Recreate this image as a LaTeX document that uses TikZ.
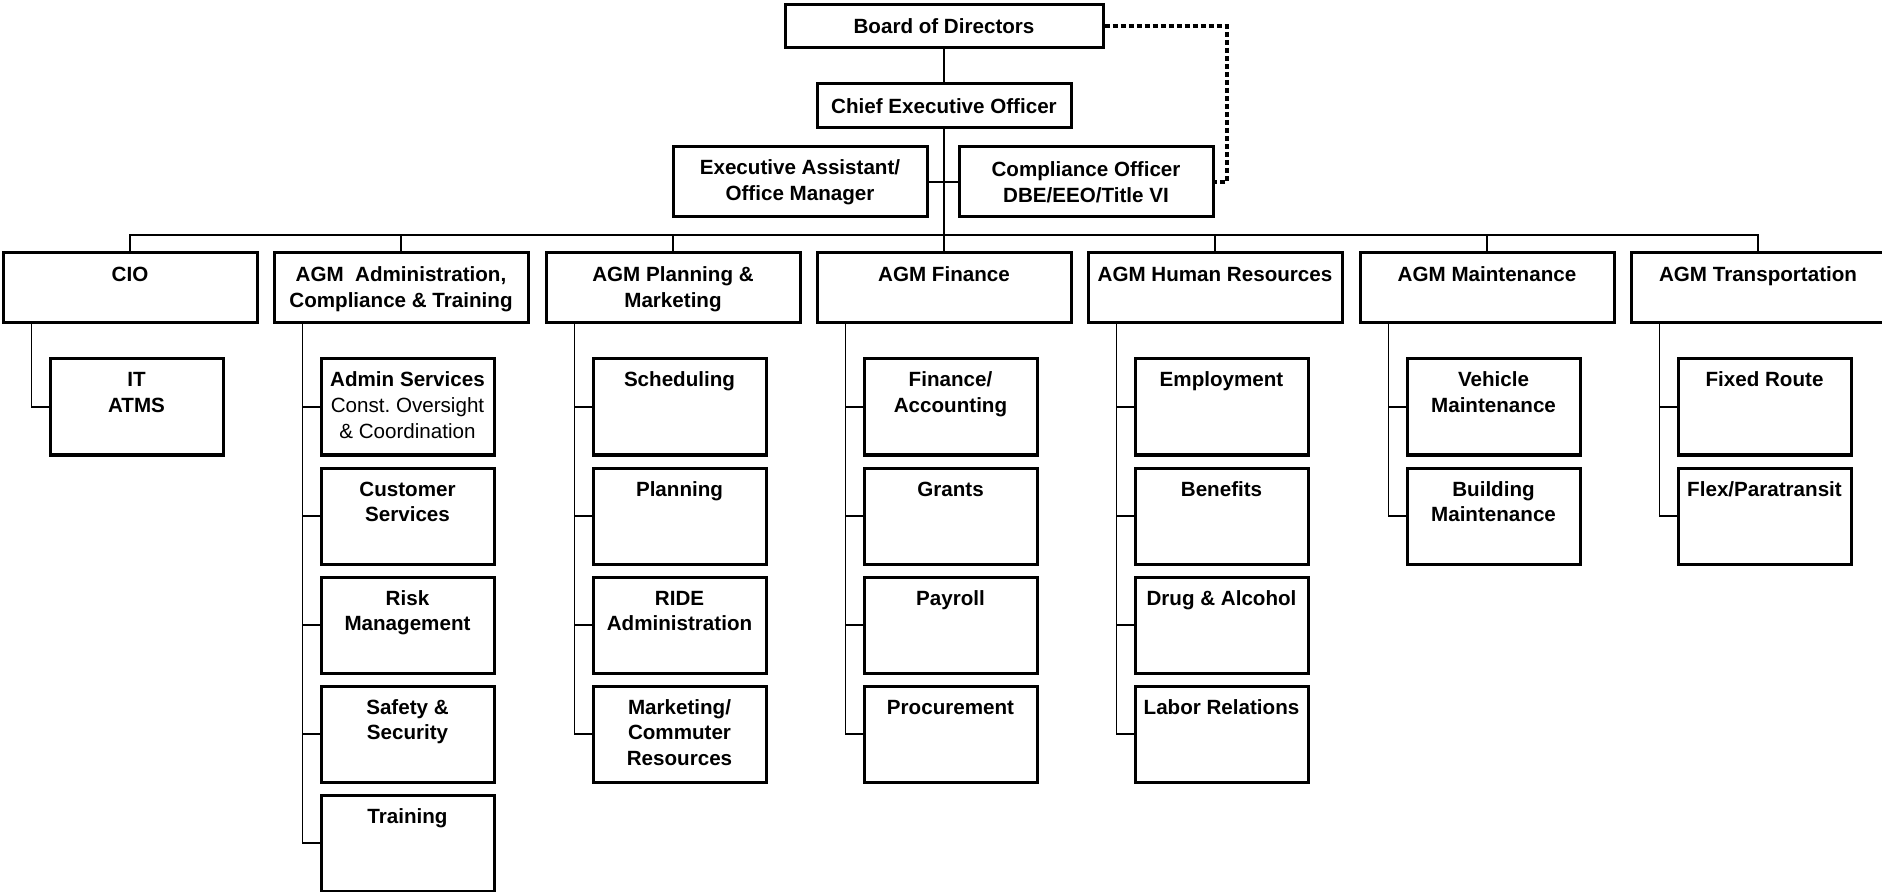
\documentclass[tikz,border=0pt]{standalone}
\usepackage{fontspec}
\setmainfont{Liberation Sans}
\usepackage{tikz}
\usetikzlibrary{positioning}

\tikzset{
    orgbox/.style={draw, line width=1.5pt, inner sep=0pt, align=center,
        font=\fontsize{10.3}{12.8}\selectfont\bfseries},
    headbox/.style={orgbox, minimum width=127pt, minimum height=35pt},
    link/.style={line width=0.6pt},
    dotlink/.style={line width=2pt, dash pattern=on 2.5pt off 1.5pt},
}
\newcommand{\agmtext}[1]{\parbox[c][35pt][t]{127pt}{\centering\rule{0pt}{14.5pt}#1}}
\newcommand{\unittext}[1]{\parbox[c][48pt][t]{86.5pt}{\centering\rule{0pt}{14pt}#1}}

\begin{document}
\begin{tikzpicture}[x=0.5pt, y=-0.5pt]
    \useasboundingbox (0,0) rectangle (1882,892);

    % top of the chart
    \node[orgbox, minimum width=159pt, minimum height=21.5pt] (board) at (944,26.5) {Board of Directors};
    \node[orgbox, minimum width=127pt, minimum height=22pt] (ceo) at (944,106) {Chief Executive Officer};
    \node[headbox] (exec) at (800,182) {Executive Assistant/\\Office Manager};
    \node[headbox] (comp) at (1086,182) {Compliance Officer\\DBE/EEO/Title VI};
    \coordinate (bus) at (944,235);
    \coordinate (dotc) at (1227,26.5);

    % assistant general managers
    \node[orgbox] (cio) at (130,288) {\agmtext{CIO}};
    \node[orgbox] (adm) at (401,288) {\agmtext{AGM\ \ Administration,\\Compliance \& Training}};
    \node[orgbox] (pln) at (673,288) {\agmtext{AGM Planning \&\\Marketing}};
    \node[orgbox] (fin) at (944,288) {\agmtext{AGM Finance}};
    \node[orgbox] (hr) at (1215,288) {\agmtext{AGM Human Resources}};
    \node[orgbox] (mnt) at (1487,288) {\agmtext{AGM Maintenance}};
    \node[orgbox] (trn) at (1758,288) {\agmtext{AGM Transportation}};

    % units
    \node[orgbox] (it) at (136.5,407) {\unittext{IT\\ATMS}};

    \node[orgbox] (adm1) at (407.5,407) {\unittext{Admin Services\\{\mdseries Const.\ Oversight\\\& Coordination}}};
    \node[orgbox] (adm2) at (407.5,516) {\unittext{Customer\\Services}};
    \node[orgbox] (adm3) at (407.5,625) {\unittext{Risk\\Management}};
    \node[orgbox] (adm4) at (407.5,734) {\unittext{Safety \&\\Security}};
    \node[orgbox] (adm5) at (407.5,843) {\unittext{Training}};

    \node[orgbox] (pln1) at (679.5,407) {\unittext{Scheduling}};
    \node[orgbox] (pln2) at (679.5,516) {\unittext{Planning}};
    \node[orgbox] (pln3) at (679.5,625) {\unittext{RIDE\\Administration}};
    \node[orgbox] (pln4) at (679.5,734) {\unittext{Marketing/\\Commuter\\Resources}};

    \node[orgbox] (fin1) at (950.5,407) {\unittext{Finance/\\Accounting}};
    \node[orgbox] (fin2) at (950.5,516) {\unittext{Grants}};
    \node[orgbox] (fin3) at (950.5,625) {\unittext{Payroll}};
    \node[orgbox] (fin4) at (950.5,734) {\unittext{Procurement}};

    \node[orgbox] (hr1) at (1221.5,407) {\unittext{Employment}};
    \node[orgbox] (hr2) at (1221.5,516) {\unittext{Benefits}};
    \node[orgbox] (hr3) at (1221.5,625) {\unittext{Drug \& Alcohol}};
    \node[orgbox] (hr4) at (1221.5,734) {\unittext{Labor Relations}};

    \node[orgbox] (mnt1) at (1493.5,407) {\unittext{Vehicle\\Maintenance}};
    \node[orgbox] (mnt2) at (1493.5,516) {\unittext{Building\\Maintenance}};

    \node[orgbox] (trn1) at (1764.5,407) {\unittext{Fixed Route}};
    \node[orgbox] (trn2) at (1764.5,516) {\unittext{Flex/Paratransit}};

    % connectors
    \draw[link] (board) -- (ceo);
    \draw[link] (ceo.south) -- (bus);
    \draw[link] (exec.east) -- (comp.west);
    \draw[dotlink] (board.east) -- (board.east -| dotc) |- (comp.east);
    \draw[link] (cio.north) -- (cio.north |- bus) -- (trn.north |- bus) -- (trn.north);
    \draw[link] (adm.north) -- (adm.north |- bus);
    \draw[link] (pln.north) -- (pln.north |- bus);
    \draw[link] (fin.north) -- (bus);
    \draw[link] (hr.north) -- (hr.north |- bus);
    \draw[link] (mnt.north) -- (mnt.north |- bus);

    \draw[link] ([xshift=15pt]cio.south west) |- (it.west);
    \draw[link] ([xshift=15pt]adm.south west) |- (adm1.west);
    \draw[link] ([xshift=15pt]adm.south west) |- (adm2.west);
    \draw[link] ([xshift=15pt]adm.south west) |- (adm3.west);
    \draw[link] ([xshift=15pt]adm.south west) |- (adm4.west);
    \draw[link] ([xshift=15pt]adm.south west) |- (adm5.west);
    \draw[link] ([xshift=15pt]pln.south west) |- (pln1.west);
    \draw[link] ([xshift=15pt]pln.south west) |- (pln2.west);
    \draw[link] ([xshift=15pt]pln.south west) |- (pln3.west);
    \draw[link] ([xshift=15pt]pln.south west) |- (pln4.west);
    \draw[link] ([xshift=15pt]fin.south west) |- (fin1.west);
    \draw[link] ([xshift=15pt]fin.south west) |- (fin2.west);
    \draw[link] ([xshift=15pt]fin.south west) |- (fin3.west);
    \draw[link] ([xshift=15pt]fin.south west) |- (fin4.west);
    \draw[link] ([xshift=15pt]hr.south west) |- (hr1.west);
    \draw[link] ([xshift=15pt]hr.south west) |- (hr2.west);
    \draw[link] ([xshift=15pt]hr.south west) |- (hr3.west);
    \draw[link] ([xshift=15pt]hr.south west) |- (hr4.west);
    \draw[link] ([xshift=15pt]mnt.south west) |- (mnt1.west);
    \draw[link] ([xshift=15pt]mnt.south west) |- (mnt2.west);
    \draw[link] ([xshift=15pt]trn.south west) |- (trn1.west);
    \draw[link] ([xshift=15pt]trn.south west) |- (trn2.west);
\end{tikzpicture}
\end{document}
